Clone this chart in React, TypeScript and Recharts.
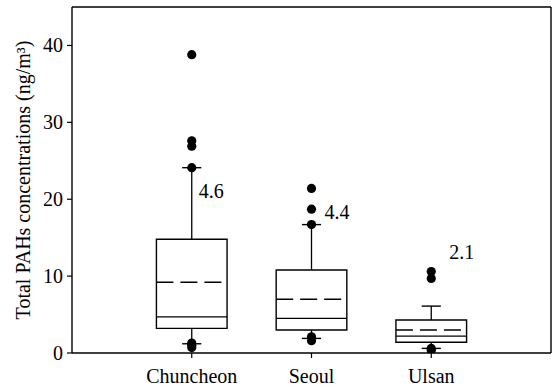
import React from 'react';
import {
  ComposedChart,
  XAxis,
  YAxis,
  Scatter,
  ReferenceArea,
  ReferenceLine,
} from 'recharts';

// box plot summary per site (ng/m3)
const categories = ['Chuncheon', 'Seoul', 'Ulsan'];
const q1 = [3.2, 3.0, 1.4];
const median = [4.7, 4.5, 2.2];
const q3 = [14.8, 10.8, 4.3];
const mean = [9.2, 7.0, 3.0];
const whiskerLow = [1.2, 1.9, 0.6];
const whiskerHigh = [24.1, 16.7, 6.1];

// points beyond / at the whisker ends
const outliersChuncheon = [38.8, 27.6, 26.9, 24.1, 1.3, 1.0, 0.7];
const outliersSeoul = [21.4, 18.7, 16.7, 2.1, 1.6];
const outliersUlsan = [10.6, 9.7, 0.6, 0.35];

// numbers written beside each box
const noteText = ['4.6', '4.4', '2.1'];
const noteY = [21.1, 18.4, 13.2];

const yTicks = [0, 10, 20, 30, 40];

const FONT = 'Liberation Serif, Times New Roman, serif';
const txt = { fontFamily: FONT, fontSize: 20, fill: '#000' };
const BOX_HALF = 0.295;
const CAP_HALF = 0.08;
const NOTE_DX = [7, 13, 18];

const outlierData = [outliersChuncheon, outliersSeoul, outliersUlsan].flatMap((vals, i) =>
  vals.map((v) => ({ x: i + 1, y: v }))
);
const noteData = noteText.map((t, i) => ({ x: i + 1, y: noteY[i], text: t, idx: i }));

const Dot = (p: any) => <circle cx={p.cx} cy={p.cy} r={4.6} fill="#000" />;

const Note = (p: any) => (
  <text x={p.cx + NOTE_DX[p.payload.idx]} y={p.cy} dy="0.35em" style={txt}>
    {p.payload.text}
  </text>
);

const XTick = (p: any) => (
  <text x={p.x} y={p.y} dy="0.71em" textAnchor="middle" style={txt}>
    {categories[p.payload.value - 1]}
  </text>
);

const YTick = (p: any) => (
  <text x={p.x} y={p.y} dy="0.35em" textAnchor="end" style={txt}>
    {p.payload.value}
  </text>
);

export default function App() {
  return (
    <div style={{ position: 'absolute', left: 0, top: 0, background: '#fff', fontFamily: FONT }}>
      <ComposedChart width={556} height={389} margin={{ top: 7, right: 5, bottom: 0, left: 0 }}>
        <XAxis
          dataKey="x"
          type="number"
          domain={[0, 4]}
          ticks={[1, 2, 3]}
          allowDataOverflow
          height={36}
          axisLine={{ stroke: '#000', strokeWidth: 1.4 }}
          tickLine={{ stroke: '#000', strokeWidth: 1.2 }}
          tickSize={5}
          tickMargin={11}
          tick={XTick}
        />
        <YAxis
          type="number"
          domain={[0, 45]}
          ticks={yTicks}
          allowDataOverflow
          width={72}
          axisLine={{ stroke: '#000', strokeWidth: 1.4 }}
          tickLine={{ stroke: '#000', strokeWidth: 1.2 }}
          tickSize={5}
          tickMargin={4}
          tick={YTick}
          label={{
            value: 'Total PAHs concentrations (ng/m³)',
            angle: -90,
            position: 'insideLeft',
            offset: 23,
            style: { ...txt, textAnchor: 'middle' },
          }}
        />

        {/* frame */}
        <ReferenceLine y={45} stroke="#000" strokeWidth={1.4} />
        <ReferenceLine x={4} stroke="#000" strokeWidth={1.4} />

        {categories.map((c, i) => {
          const x = i + 1;
          return (
            <React.Fragment key={c}>
              <ReferenceLine segment={[{ x, y: q3[i] }, { x, y: whiskerHigh[i] }]} stroke="#000" strokeWidth={1.3} />
              <ReferenceLine segment={[{ x, y: whiskerLow[i] }, { x, y: q1[i] }]} stroke="#000" strokeWidth={1.3} />
              <ReferenceLine
                segment={[{ x: x - CAP_HALF, y: whiskerHigh[i] }, { x: x + CAP_HALF, y: whiskerHigh[i] }]}
                stroke="#000"
                strokeWidth={1.4}
              />
              <ReferenceLine
                segment={[{ x: x - CAP_HALF, y: whiskerLow[i] }, { x: x + CAP_HALF, y: whiskerLow[i] }]}
                stroke="#000"
                strokeWidth={1.4}
              />
              <ReferenceArea
                x1={x - BOX_HALF}
                x2={x + BOX_HALF}
                y1={q1[i]}
                y2={q3[i]}
                fill="#fff"
                fillOpacity={1}
                stroke="#000"
                strokeWidth={1.4}
              />
              <ReferenceLine
                segment={[{ x: x - BOX_HALF, y: median[i] }, { x: x + BOX_HALF, y: median[i] }]}
                stroke="#000"
                strokeWidth={1.3}
              />
              <ReferenceLine
                segment={[{ x: x - BOX_HALF, y: mean[i] }, { x: x + BOX_HALF, y: mean[i] }]}
                stroke="#000"
                strokeWidth={1.4}
                strokeDasharray="17 7"
              />
            </React.Fragment>
          );
        })}

        <Scatter data={outlierData} dataKey="y" shape={Dot} isAnimationActive={false} />
        <Scatter data={noteData} dataKey="y" shape={Note} isAnimationActive={false} />
      </ComposedChart>
    </div>
  );
}
